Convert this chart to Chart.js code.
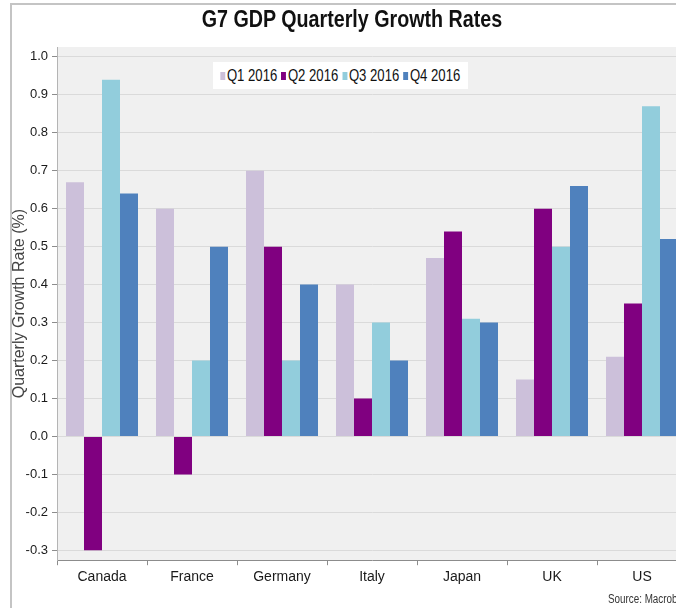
<!DOCTYPE html>
<html>
<head>
<meta charset="utf-8">
<script src="https://cdn.jsdelivr.net/npm/chart.js@4.4.1/dist/chart.umd.min.js"></script>
<style>
  html, body { margin: 0; padding: 0; background: #fff; overflow: hidden; width: 676px; height: 608px; }
  #wrap { position: relative; width: 676px; height: 608px; overflow: hidden; }
  #frame { position: absolute; left: 10px; top: 3px; right: -20px; bottom: -20px;
           border-left: 2px solid #c4c4c4; border-top: 2px solid #c4c4c4; }
  #chart { position: absolute; left: 0; top: 0; }
  /* no narrow face installed, so squeeze the regular one */
  #title { position: absolute; left: 0; top: 5px; width: 704px; text-align: center;
           font: bold 24px "Liberation Sans", Arial, sans-serif; color: #111;
           transform: scaleX(0.82); transform-origin: 352px 0; }
  #legend { position: absolute; left: 213px; top: 62px; width: 255px; height: 27px;
            background: #fff; display: flex; align-items: center; justify-content: center; }
  #legend .row { display: flex; align-items: center; white-space: nowrap;
                 font: 16px "Liberation Sans", Arial, sans-serif; color: #111;
                 transform: scaleX(0.82); }
  #legend .item { display: inline-flex; align-items: center; margin-right: 5px; }
  #legend .item:last-child { margin-right: 0; }
  #legend i { display: inline-block; width: 6px; height: 8px; margin-right: 2px; }
  #source { position: absolute; left: 608px; top: 592px; white-space: nowrap;
            font: 12px "Liberation Sans", Arial, sans-serif; color: #333;
            transform: scaleX(0.82); transform-origin: 0 0; }
</style>
</head>
<body>
<div id="wrap">
  <div id="frame"></div>
  <canvas id="chart" width="704" height="608"></canvas>
  <div id="title">G7 GDP Quarterly Growth Rates</div>
  <div id="legend"><div class="row"></div></div>
  <div id="source">Source: Macrobond</div>
</div>
<script>
// G7 quarterly GDP growth, %
const countries = ["Canada", "France", "Germany", "Italy", "Japan", "UK", "US"];
const quarters = ["Q1 2016", "Q2 2016", "Q3 2016", "Q4 2016"];
const q1 = [0.67, 0.60, 0.70, 0.40, 0.47, 0.15, 0.21];
const q2 = [-0.30, -0.10, 0.50, 0.10, 0.54, 0.60, 0.35];
const q3 = [0.94, 0.20, 0.20, 0.30, 0.31, 0.50, 0.87];
const q4 = [0.64, 0.50, 0.40, 0.20, 0.30, 0.66, 0.52];
const yTicks = [-0.3, -0.2, -0.1, 0.0, 0.1, 0.2, 0.3, 0.4, 0.5, 0.6, 0.7, 0.8, 0.9, 1.0];
const colors = ["#ccc0da", "#800080", "#92cddc", "#4f81bd"];

const series = [q1, q2, q3, q4];
const sans = '"Liberation Sans", Arial, sans-serif';

// legend (html, sits inside the plot)
const legendRow = document.querySelector("#legend .row");
quarters.forEach((q, i) => {
  const item = document.createElement("span");
  item.className = "item";
  item.innerHTML = `<i style="background:${colors[i]}"></i>${q}`;
  legendRow.appendChild(item);
});

// grey plot background
const plotBg = {
  id: "plotBg",
  beforeDraw(chart) {
    const { ctx, chartArea: a } = chart;
    ctx.save();
    ctx.fillStyle = "#f0f0f0";
    ctx.fillRect(a.left, a.top, a.right - a.left, a.bottom - a.top);
    ctx.restore();
  },
};

new Chart(document.getElementById("chart"), {
  type: "bar",
  data: {
    labels: countries,
    datasets: series.map((d, i) => ({
      label: quarters[i],
      data: d,
      backgroundColor: colors[i],
      borderWidth: 0,
      barPercentage: 1.0,
      categoryPercentage: 0.8,
    })),
  },
  options: {
    responsive: false,
    animation: false,
    devicePixelRatio: 1,
    layout: { padding: { top: 47, left: 0, right: 17, bottom: 18 } },
    plugins: {
      legend: { display: false },
      title: { display: false },
      tooltip: { enabled: false },
    },
    scales: {
      x: {
        grid: {
          display: true,
          drawOnChartArea: false,
          drawTicks: true,
          tickLength: 5,
          tickColor: "#8c8c8c",
          offset: true,
        },
        border: { display: true, color: "#8c8c8c", width: 1 },
        ticks: {
          color: "#1a1a1a",
          padding: 4,
          font: { family: sans, size: 14 },
        },
      },
      y: {
        min: -0.326,
        max: 1.026,
        afterBuildTicks: (scale) => {
          scale.ticks = yTicks.map((v) => ({ value: v }));
        },
        afterFit: (scale) => {
          scale.width = 57;
        },
        grid: {
          color: "#dadada",
          tickColor: "#8c8c8c",
          tickLength: 5,
        },
        border: { display: true, color: "#b4b4b4", width: 1 },
        ticks: {
          color: "#1a1a1a",
          padding: 4,
          font: { family: sans, size: 13 },
          callback: (v) => Number(v).toFixed(1),
        },
        title: {
          display: true,
          text: "Quarterly Growth Rate (%)",
          color: "#444",
          font: { family: sans, size: 16 },
          padding: { top: 10, bottom: 0 },
        },
      },
    },
  },
  plugins: [plotBg],
});
</script>
</body>
</html>
